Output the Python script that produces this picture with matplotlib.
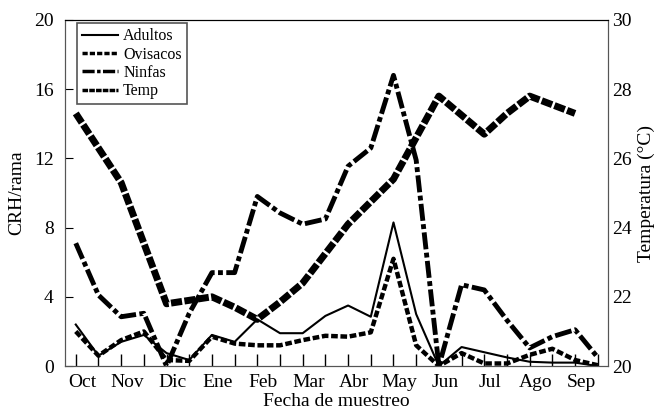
import matplotlib
matplotlib.use('Agg')
import matplotlib.pyplot as plt
import numpy as np

meses = ['Oct', 'Nov', 'Dic', 'Ene', 'Feb', 'Mar', 'Abr', 'May', 'Jun', 'Jul', 'Ago', 'Sep']

# two samples per month, Oct .. Sep
adultos = [2.4, 0.6, 1.4, 1.8, 0.75, 0.35, 1.8, 1.4, 2.7, 1.9, 1.9, 2.9,
           3.5, 2.85, 8.3, 3.0, 0.0, 1.1, 0.8, 0.5, 0.25, 0.2, 0.2, 0.0]
ovisacos = [2.0, 0.6, 1.5, 2.0, 0.35, 0.3, 1.7, 1.3, 1.2, 1.2, 1.5, 1.75,
            1.7, 1.95, 6.2, 1.2, 0.0, 0.75, 0.15, 0.15, 0.65, 1.0, 0.35, 0.05]
ninfas = [7.1, 4.1, 2.85, 3.05, 0.0, 3.05, 5.4, 5.4, 9.8, 8.85, 8.2, 8.5,
          11.55, 12.6, 16.8, 11.9, 0.0, 4.7, 4.4, 2.65, 1.05, 1.7, 2.1, 0.5]
temp = [27.3, 26.3, 25.3, 23.55, 21.8, 21.9, 22.0, 21.7, 21.35, 21.85, 22.4, 23.25,
        24.1, 24.75, 25.4, 26.6, 27.8, 27.25, 26.7, 27.3, 27.8, 27.55, 27.3, np.nan]

plt.rcParams['font.family'] = ['Liberation Serif', 'DejaVu Serif']

def main():
    fig = plt.figure(figsize=(6.62, 4.16), dpi=100)
    ax = fig.add_axes([0.098, 0.12, 0.82, 0.832])
    ax2 = ax.twinx()

    x = np.arange(len(adultos))
    l1, = ax.plot(x, adultos, color='black', lw=1.5, ls='-')
    l2, = ax.plot(x, ovisacos, color='black', lw=3.2, ls=(0, (1.5, 0.6)))
    l3, = ax.plot(x, ninfas, color='black', lw=3.5, ls=(0, (3.5, 0.7, 1, 0.7)))
    l4, = ax2.plot(x, temp, color='black', lw=5, ls=(0, (1.6, 0.35)))

    ax.set_xlim(-0.48, 23.44)
    ax.set_ylim(0, 20)
    ax2.set_ylim(20, 30)
    ax.set_yticks([0, 4, 8, 12, 16, 20])
    ax2.set_yticks([20, 22, 24, 26, 28, 30])

    # month labels sit a bit right of every second sample tick
    ax.set_xticks(np.arange(0, 24, 2) + 0.27)
    ax.set_xticklabels(meses)
    ax.set_xticks(x, minor=True)
    ax.tick_params(axis='x', which='major', length=0, pad=6, labelsize=14)
    ax.tick_params(axis='x', which='minor', direction='in', length=9, width=1)
    ax.tick_params(axis='y', direction='in', length=6, pad=8, labelsize=14)
    ax2.tick_params(axis='y', length=0, pad=3, labelsize=14)

    ax.set_xlabel('Fecha de muestreo', fontsize=14, labelpad=1)
    ax.set_ylabel('CRH/rama', fontsize=14, labelpad=6)
    ax2.set_ylabel('Temperatura (°C)', fontsize=14, labelpad=4)

    for a in (ax, ax2):
        for s in ['left', 'right', 'bottom']:
            a.spines[s].set_color('#555555')
        a.spines['top'].set_color('black')

    leg = ax.legend([l1, l2, l3, l4], ['Adultos', 'Ovisacos', 'Ninfas', 'Temp'],
                    loc='upper left', bbox_to_anchor=(0.022, 0.99), fontsize=11.5,
                    fancybox=False, framealpha=1, edgecolor='#555555',
                    handlelength=2.3, handletextpad=0.3, labelspacing=0.15,
                    borderpad=0.3, borderaxespad=0)
    leg.get_frame().set_linewidth(1.2)
    for h in leg.get_lines():
        h.set_linewidth(2.5)
    leg.get_lines()[0].set_linewidth(1.5)

    fig.savefig('out.png', dpi=100)

if __name__ == '__main__':
    main()
